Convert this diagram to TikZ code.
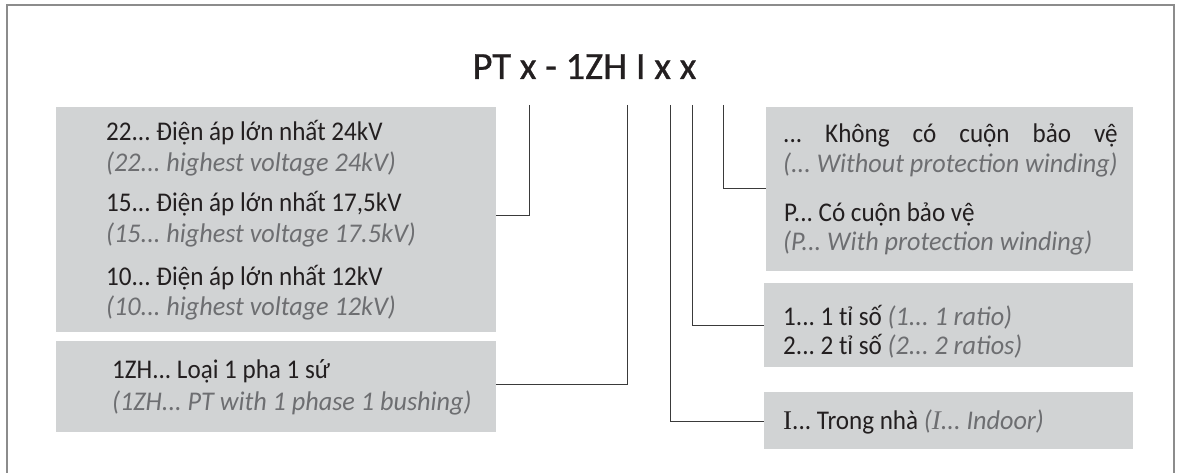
\documentclass[tikz,border=0pt]{standalone}
\usepackage{fontspec}
\setmainfont{Carlito}
\newfontfamily\vifont{Carlito}[FakeStretch=0.93]
\newfontfamily\enfont{Carlito}[FakeStretch=0.97]
\newfontfamily\titlefont{Carlito}[FakeBold=0.8]
\newfontfamily\serifI{Liberation Serif}
\newlength\enw
\definecolor{boxgray}{HTML}{D1D3D4}
\definecolor{txt}{HTML}{231F20}
\definecolor{eng}{HTML}{6D6E71}
\definecolor{framegray}{HTML}{8C8C8C}
\definecolor{wiregray}{HTML}{3A3A3A}
\newcommand{\en}[1]{\textcolor{eng}{\enfont\itshape #1}}
\begin{document}
\frenchspacing
\begin{tikzpicture}[x=1pt,y=-1pt,
  box/.style={fill=boxgray, draw=none, inner sep=0pt, anchor=north west},
  vi/.style={anchor=base west, inner sep=0pt, text=txt, font=\fontsize{27}{30}\selectfont\vifont},
  en/.style={anchor=base west, inner sep=0pt, text=eng, font=\fontsize{27}{30}\selectfont\enfont\itshape},
  wire/.style={draw=wiregray, line width=1pt},
  frameline/.style={draw=framegray, line width=1.6pt}]
\useasboundingbox (0,0) rectangle (1179,473);
\draw[frameline] (7,473) -- (7,5) -- (1174,5) -- (1174,473);

\node[anchor=base, inner sep=0pt, text=txt, font=\fontsize{38.5}{44}\selectfont\titlefont] (title) at (584.5,79) {PT x - 1ZH I x x};

% boxes
\node[box, minimum width=440pt, minimum height=225pt] (b1) at (56,107) {};
\node[box, minimum width=440pt, minimum height=91pt] (b2) at (56,341) {};
\node[box, minimum width=367pt, minimum height=164pt] (b3) at (766,107) {};
\node[box, minimum width=369pt, minimum height=84pt] (b4) at (764,283) {};
\node[box, minimum width=369pt, minimum height=57pt] (b5) at (764,392) {};

% box 1 texts
\node[vi] (t11) at (106,141) {22... Điện áp lớn nhất 24kV};
\node[en] (t12) at (106,172) {(22... highest voltage 24kV)};
\node[vi] (t13) at (106,212) {15... Điện áp lớn nhất 17,5kV};
\node[en] (t14) at (106,243) {(15... highest voltage 17.5kV)};
\node[vi] (t15) at (106,286) {10... Điện áp lớn nhất 12kV};
\node[en] (t16) at (106,316) {(10... highest voltage 12kV)};

% box 2 texts
\node[vi] (t21) at (112,378) {1ZH... Loại 1 pha 1 sứ};
\node[en] (t22) at (112,410) {(1ZH... PT with 1 phase 1 bushing)};

% box 3 texts
\node[vi] (t31) at (783,143) {\settowidth{\enw}{\enfont\itshape (... Without protection winding)}\makebox[\enw][s]{... Không có cuộn bảo vệ}};
\node[en] (t32) at (783,173) {(... Without protection winding)};
\node[vi] (t33) at (784,222) {P... Có cuộn bảo vệ};
\node[en] (t34) at (783,251) {(P... With protection winding)};

% box 4 texts
\node[vi] (t41) at (783,326) {1... 1 tỉ số \en{(1... 1 ratio)}};
\node[vi] (t42) at (783,354) {2... 2 tỉ số \en{(2... 2 ratios)}};

% box 5 text
\node[vi] (t51) at (783,429) {{\serifI I}... Trong nhà \en{({\serifI I}... Indoor)}};

% connector tops
\coordinate (top1) at (529,105);
\coordinate (top2) at (627,105);
\coordinate (top3) at (670,105);
\coordinate (top4) at (692,105);
\coordinate (top5) at (723,105);

\draw[wire] (top1) |- ([yshift=4pt]b1.east);
\draw[wire] (top2) |- ([yshift=2pt]b2.east);
\draw[wire] (top3) |- ([yshift=-1pt]b5.west);
\draw[wire] (top4) |- (b4.west);
\draw[wire] (top5) |- ([yshift=1pt]b3.west);
\end{tikzpicture}
\end{document}
